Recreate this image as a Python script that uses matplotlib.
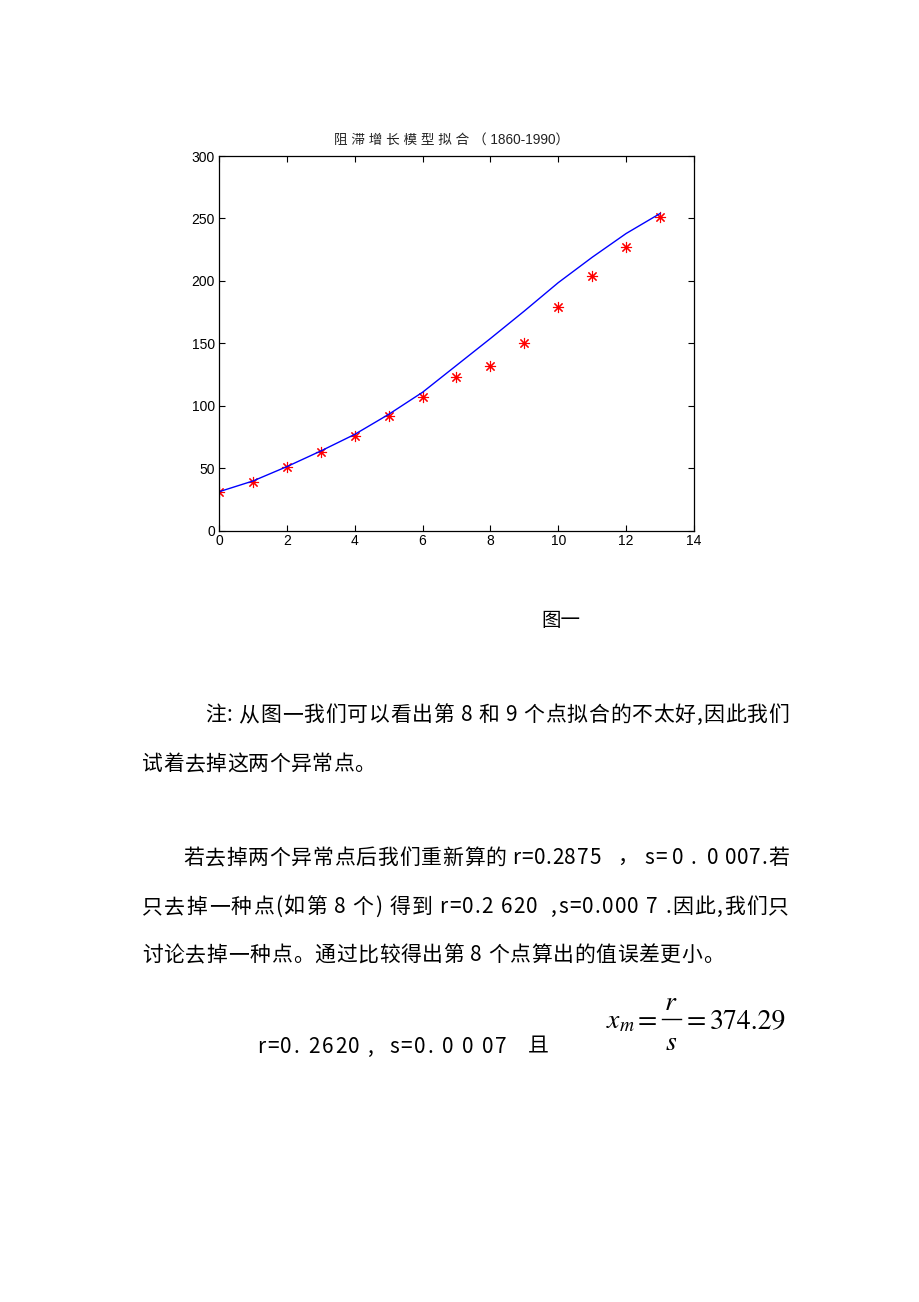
import matplotlib
matplotlib.use("Agg")
import matplotlib.pyplot as plt
from matplotlib.font_manager import FontProperties
from matplotlib.lines import Line2D

# data (decades since 1860)
decades = [0, 1, 2, 3, 4, 5, 6, 7, 8, 9, 10, 11, 12, 13]
population = [31.4, 39.2, 50.9, 63.2, 76.3, 91.7, 106.9, 123.2, 132.3, 150.7, 179.5, 204.0, 227.0, 251.5]
fitted = [31.4, 40.0, 51.5, 64.0, 77.3, 93.3, 111.0, 132.5, 154.0, 176.0, 198.7, 219.0, 238.0, 254.0]
x_ticks = [0, 2, 4, 6, 8, 10, 12, 14]
y_ticks = [0, 50, 100, 150, 200, 250, 300]

title = "阻 滞 增 长 模 型 拟 合 （ 1860-1990）"
caption = "图一"
body_lines = [
    "注: 从图一我们可以看出第 8 和 9 个点拟合的不太好,因此我们",
    "试着去掉这两个异常点。",
    "若去掉两个异常点后我们重新算的 r=0.2875   ， s= 0 .  0 007.若",
    "只去掉一种点(如第 8 个) 得到 r=0.2 620  ,s=0.000 7 .因此,我们只",
    "讨论去掉一种点。通过比较得出第 8 个点算出的值误差更小。",
    "r=0. 2620 ,  s=0. 0 0 07   且",
]

W, H = 920, 1302
plt.rcParams['mathtext.fontset'] = 'stix'
cjk = ['Noto Sans CJK SC', 'DejaVu Sans']
body_size = 15


def fx(x):
    return x / W


def fy(y):
    return 1 - y / H


fig = plt.figure(figsize=(W / 100, H / 100), dpi=100)
fig.patch.set_facecolor('white')

ax = fig.add_axes([fx(219), fy(531), (694 - 219) / W, (531 - 156) / H])
ax.plot(decades, population, linestyle='none', marker=(8, 2, 0),
        color='red', markersize=8, markeredgewidth=0.8)
ax.plot(decades, fitted, color='blue', linewidth=1)
ax.set_xlim(0, 14)
ax.set_ylim(0, 300)
ax.set_xticks(x_ticks)
ax.set_yticks(y_ticks)
ax.tick_params(direction='in', top=True, right=True, length=4, width=0.8,
               labelsize=10)
ax.tick_params(axis='x', pad=2)
ax.tick_params(axis='y', pad=3)
for lab in ax.get_xticklabels() + ax.get_yticklabels():
    lab.set_family('Liberation Sans')
for sp in ax.spines.values():
    sp.set_linewidth(0.9)

fig.text(fx(452), fy(140), title, ha='center', va='center', fontsize=9.8,
         family=['Liberation Sans', 'Noto Sans CJK SC'], color='#222222')

fig.text(fx(541), fy(621), caption, ha='left', va='center', fontsize=14,
         family=cjk)

# body text is justified in the document: spread each line over its width
renderer = fig.canvas.get_renderer()
prop = FontProperties(family=cjk, size=body_size)


def advance(c):
    w2 = renderer.get_text_width_height_descent("|" + c + "|", prop, ismath=False)[0]
    w1 = renderer.get_text_width_height_descent("||", prop, ismath=False)[0]
    return w2 - w1


def justified(s, x0, x1, y_mid):
    adv = [advance(c) for c in s]
    gap = (x1 - x0 - sum(adv)) / (len(s) - 1)
    x = x0
    base = y_mid + 0.38 * body_size * 100 / 72
    for c, a in zip(s, adv):
        if c != " ":
            fig.text(fx(x), fy(base), c, ha='left', va='baseline',
                     fontsize=body_size, family=cjk)
        x += a + gap


line_box = [(205, 789, 713), (142, 375, 762), (183, 789, 856),
            (142, 789, 905), (142, 724, 953), (257, 549, 1045)]
for (x0, x1, y), s in zip(line_box, body_lines):
    justified(s, x0, x1, y)

# x_m = r / s = 374.29
fs = 20
fig.text(fx(606), fy(1028), r"$x_m$", ha='left', va='baseline', fontsize=fs)
fig.text(fx(638), fy(1028), "=", ha='left', va='baseline', fontsize=fs,
         family='STIXGeneral')
fig.text(fx(671), fy(1010), r"$r$", ha='center', va='baseline', fontsize=fs)
fig.add_artist(Line2D([fx(662), fx(681)], [fy(1019), fy(1019)],
                      color='black', linewidth=1, transform=fig.transFigure))
fig.text(fx(671), fy(1050), r"$s$", ha='center', va='baseline', fontsize=fs)
fig.text(fx(687), fy(1028), "=", ha='left', va='baseline', fontsize=fs,
         family='STIXGeneral')
fig.text(fx(710), fy(1028), "374.29", ha='left', va='baseline', fontsize=fs,
         family='STIXGeneral')

fig.savefig("out.png", dpi=100)
